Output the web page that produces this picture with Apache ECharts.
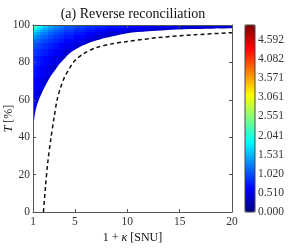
<!DOCTYPE html>
<html><head><meta charset="utf-8">
<script src="https://cdn.jsdelivr.net/npm/echarts@6/dist/echarts.min.js"></script>
<style>html,body{margin:0;padding:0;background:#fff}#c{width:299px;height:250px}</style>
</head><body><div id="c"></div>
<script>
// ---- data ----
const xEdges = [1, 1.2, 1.4, 1.7, 2, 2.5, 3, 3.5, 4, 5, 6, 7, 8, 10, 12, 15, 20];
// row edges, top (T=100) to bottom
const tEdges = [100, 99.5, 99, 98, 97, 96, 94.5, 92.5, 90, 87, 83, 78, 72, 65, 55, 40];
// key rate per cell, one array per row (top to bottom), columns left to right
const row0 = [3.4, 3.0, 2.6, 2.25, 1.95, 1.7, 1.5, 1.38, 1.25, 1.12, 1.03, 0.96, 0.9, 0.83, 0.76, 0.68];
const row1 = [2.8, 2.55, 2.25, 2.0, 1.78, 1.58, 1.42, 1.3, 1.17, 1.04, 0.95, 0.88, 0.81, 0.73, 0.66, 0.58];
const row2 = [2.3, 2.15, 1.95, 1.78, 1.6, 1.44, 1.31, 1.2, 1.07, 0.95, 0.86, 0.79, 0.71, 0.63, 0.55, 0.46];
const row3 = [1.98, 1.88, 1.74, 1.6, 1.46, 1.32, 1.2, 1.1, 0.98, 0.87, 0.78, 0.7, 0.62, 0.52, 0.42, 0.34];
const row4 = [1.78, 1.7, 1.58, 1.47, 1.35, 1.22, 1.11, 1.02, 0.91, 0.8, 0.71, 0.62, 0.52, 0.4, 0.32];
const row5 = [1.58, 1.5, 1.41, 1.32, 1.22, 1.11, 1.01, 0.93, 0.83, 0.72, 0.62, 0.52, 0.41, 0.32];
const row6 = [1.38, 1.32, 1.25, 1.17, 1.09, 0.99, 0.91, 0.83, 0.74, 0.63, 0.52, 0.41, 0.32];
const row7 = [1.2, 1.15, 1.09, 1.03, 0.96, 0.88, 0.8, 0.73, 0.64, 0.52, 0.4, 0.31];
const row8 = [1.05, 1.01, 0.96, 0.91, 0.85, 0.78, 0.7, 0.63, 0.53, 0.41, 0.31];
const row9 = [0.93, 0.89, 0.85, 0.8, 0.74, 0.67, 0.6, 0.52, 0.42, 0.31];
const row10 = [0.82, 0.79, 0.75, 0.7, 0.64, 0.57, 0.49, 0.41, 0.32];
const row11 = [0.73, 0.7, 0.66, 0.61, 0.54, 0.46, 0.36];
const row12 = [0.64, 0.61, 0.57, 0.52, 0.44, 0.34];
const row13 = [0.54, 0.5, 0.44, 0.36];
const row14 = [0.42, 0.34];
const rateRows = [row0,row1,row2,row3,row4,row5,row6,row7,row8,row9,row10,row11,row12,row13,row14];

// lower edge of the region with positive key rate
const boundaryX = [1, 1.1, 1.2, 1.4, 1.67, 2, 2.62, 3, 3.58, 4, 4.53, 5, 5.5, 6.5, 7.4, 8.5, 10, 12, 13.6, 16, 20];
const boundaryT = [44, 49, 53, 57.5, 61.5, 65.5, 72, 75, 79.5, 82, 85, 86.8, 88.4, 90.8, 92.3, 93.8, 95.6, 96.6, 97.2, 97.8, 98.3];

// dashed curve
const dashedX = [2.0, 2.2, 2.4, 2.7, 3.0, 3.3, 3.6, 4.0, 4.5, 5.0, 5.8, 7.0, 8.5, 10, 13, 16.5, 20];
const dashedT = [0, 14, 26, 39, 50, 60, 66, 72, 77, 81, 84.6, 87.8, 89.9, 91.2, 93.3, 94.8, 95.9];

const xTicks = [1, 5, 10, 15, 20];
const yTicks = [0, 20, 40, 60, 80, 100];
const cbTicks = [0, 0.5102, 1.0204, 1.5306, 2.0408, 2.5510, 3.0612, 3.5714, 4.0816, 4.5918];
const cbMax = 4.99;

// ---- build chart ----
const cells = [];
rateRows.forEach((row, r) => row.forEach((v, c) => {
  cells.push([xEdges[c], xEdges[c + 1], tEdges[r + 1], tEdges[r], v]);
}));
const jet = ['#00007F','#0000FF','#007FFF','#00FFFF','#7FFF7F','#FFFF00','#FF7F00','#FF0000','#7F0000'];
const FONT = 'Liberation Serif';
const axisCol = '#555';
const lab = {fontFamily: FONT, fontSize: 11.5, color: '#333'};

const chart = echarts.init(document.getElementById('c'), null, {renderer: 'canvas'});
chart.setOption({
  animation: false,
  backgroundColor: '#fff',
  title: {text: '(a) Reverse reconciliation', left: 128, textAlign: 'center', top: 2,
    textStyle: {fontFamily: FONT, fontSize: 14, fontWeight: 'normal', color: '#111'}},
  grid: [
    {left: 33, top: 25, width: 199, height: 187, outerBoundsMode: 'none', containLabel: false},
    {left: 245, top: 25, width: 10, height: 187, show: true, borderColor: '#444', borderWidth: 1, z: 10, outerBoundsMode: 'none', containLabel: false}
  ],
  xAxis: [
    {gridIndex: 0, type: 'value', min: 1, max: 20, position: 'bottom', z: 10,
      name: '1 + {i|κ} [SNU]', nameLocation: 'middle', nameGap: 20, nameMoveOverlap: false,
      nameTextStyle: {fontFamily: FONT, fontSize: 12, color: '#111', rich: {i: {fontFamily: FONT, fontStyle: 'italic', fontSize: 12, color: '#111'}}},
      axisLine: {show: true, lineStyle: {color: axisCol}},
      axisTick: {show: true, inside: true, length: 3, customValues: xTicks, lineStyle: {color: axisCol}},
      axisLabel: Object.assign({customValues: xTicks, margin: 4}, lab),
      splitLine: {show: false}},
    {gridIndex: 0, type: 'value', min: 1, max: 20, position: 'top', z: 10,
      axisLine: {show: true, onZero: false, lineStyle: {color: axisCol}},
      axisTick: {show: true, inside: true, length: 3, customValues: xTicks, lineStyle: {color: axisCol}},
      axisLabel: {show: false}, splitLine: {show: false}},
    {gridIndex: 1, type: 'value', min: 0, max: 1, show: false}
  ],
  yAxis: [
    {gridIndex: 0, type: 'value', min: 0, max: 100, interval: 20, position: 'left', z: 10,
      name: '{i|T} [%]', nameLocation: 'middle', nameGap: 18, nameRotate: 90, nameMoveOverlap: false,
      nameTextStyle: {fontFamily: FONT, fontSize: 12, color: '#111', rich: {i: {fontFamily: FONT, fontStyle: 'italic', fontSize: 12, color: '#111'}}},
      axisLine: {show: true, lineStyle: {color: axisCol}},
      axisTick: {show: true, inside: true, length: 3, customValues: yTicks, lineStyle: {color: axisCol}},
      axisLabel: Object.assign({customValues: yTicks, margin: 3}, lab),
      splitLine: {show: false}},
    {gridIndex: 0, type: 'value', min: 0, max: 100, interval: 20, position: 'right', z: 10,
      axisLine: {show: true, onZero: false, lineStyle: {color: axisCol}},
      axisTick: {show: true, inside: true, length: 3, customValues: yTicks, lineStyle: {color: axisCol}},
      axisLabel: {show: false}, splitLine: {show: false}},
    {gridIndex: 1, type: 'value', min: 0, max: cbMax, position: 'right', z: 10,
      axisLine: {show: false}, axisTick: {show: false}, splitLine: {show: false},
      axisLabel: Object.assign({customValues: cbTicks, margin: 3, formatter: v => v.toFixed(3)}, lab)}
  ],
  visualMap: {
    type: 'continuous', min: 0, max: cbMax, dimension: 4, seriesIndex: 0,
    left: 245, top: 25, itemWidth: 10, itemHeight: 187, padding: 0,
    calculable: false, hoverLink: false, text: null, showLabel: false,
    inRange: {color: jet}
  },
  series: [
    {type: 'custom', xAxisIndex: 0, yAxisIndex: 0, data: cells, encode: {x: [0, 1], y: [2, 3]}, z: 1,
      renderItem: function (params, api) {
        const p0 = api.coord([api.value(0), api.value(3)]);
        const p1 = api.coord([api.value(1), api.value(2)]);
        const x0 = Math.floor(p0[0]), y0 = Math.floor(p0[1]);
        const x1 = Math.ceil(p1[0]), y1 = Math.ceil(p1[1]);
        return {type: 'rect', shape: {x: x0, y: y0, width: x1 - x0, height: y1 - y0},
          style: {fill: api.visual('color')}};
      }},
    {type: 'line', xAxisIndex: 0, yAxisIndex: 0, z: 3, silent: true,
      data: boundaryX.map((x, i) => [x, boundaryT[i]]), smooth: 0.3, showSymbol: false,
      lineStyle: {width: 0, opacity: 0}, areaStyle: {color: '#fff', opacity: 1, origin: 'start'}},
    {type: 'line', xAxisIndex: 0, yAxisIndex: 0, z: 4, silent: true,
      data: dashedX.map((x, i) => [x, dashedT[i]]), smooth: 0.3, showSymbol: false,
      lineStyle: {color: '#111', width: 1.5, type: [4, 3]}}
  ]
});
</script></body></html>
